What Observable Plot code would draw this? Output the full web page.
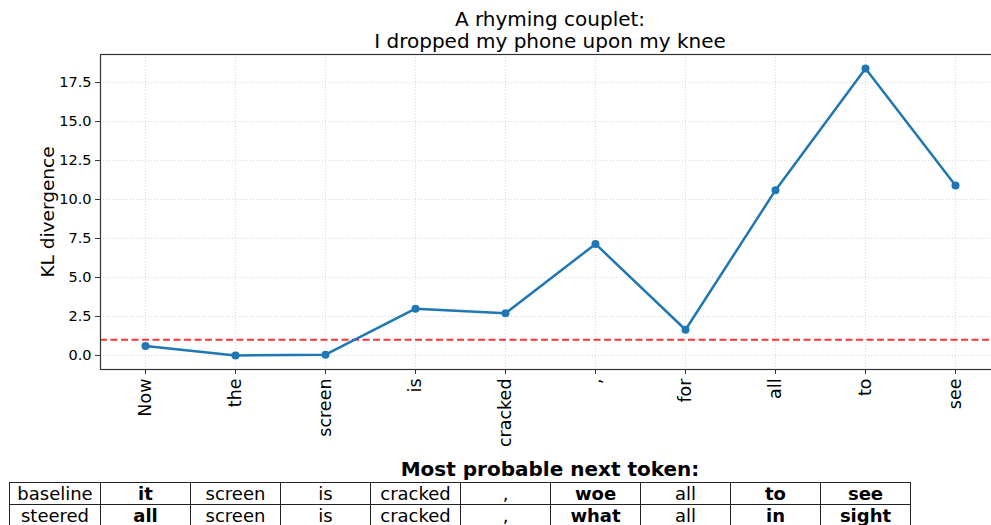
<!DOCTYPE html>
<html>
<head>
<meta charset="utf-8">
<script src="https://cdn.jsdelivr.net/npm/d3@7"></script>
<script src="https://cdn.jsdelivr.net/npm/@observablehq/plot@0.6"></script>
<style>
  html, body { margin: 0; padding: 0; background: #fff; }
  body { width: 991px; height: 525px; overflow: hidden; font-family: "DejaVu Sans", sans-serif; }
  #wrap { width: 1000px; }
  #title { width: 1000px; box-sizing: border-box; padding-left: 100px; height: 52px; padding-top: 8px; font-size: 20px; line-height: 22px; text-align: center; color: #000; }
  #thead { margin-left: 100px; width: 900px; height: 23px; font-size: 20px; line-height: 20px; font-weight: bold; text-align: center; color: #000; }
  table { margin-left: 9px; border-collapse: collapse; table-layout: fixed; font-size: 18px; color: #000; }
  td { border: 1px solid #222; height: 21px; padding: 0; line-height: 19px; text-align: center; width: 89px; }
  td:first-child { width: 90px; }
  td.b { font-weight: bold; }
</style>
</head>
<body>
<div id="wrap">
  <div id="title">A rhyming couplet:<br>I dropped my phone upon my knee</div>
  <div id="chart"></div>
  <div id="thead">Most probable next token:</div>
  <div id="tbl"></div>
</div>
<script>
const tokens = ["Now", "the", "screen", "is", "cracked", ",", "for", "all", "to", "see"];
const klValues = [0.6, 0.0, 0.05, 3.0, 2.7, 7.15, 1.65, 10.6, 18.4, 10.9];
const threshold = 1.0;
const yTicks = [0, 2.5, 5, 7.5, 10, 12.5, 15, 17.5];
const rowLabels = ["baseline", "steered"];
const baselineTokens = ["it", "screen", "is", "cracked", ",", "woe", "all", "to", "see"];
const steeredTokens = ["all", "screen", "is", "cracked", ",", "what", "all", "in", "sight"];

const data = tokens.map((t, i) => ({token: t, kl: klValues[i]}));

const chart = Plot.plot({
  width: 1000,
  height: 407,
  marginLeft: 100,
  marginRight: 0,
  marginTop: 2,
  marginBottom: 90,
  style: "max-width:none;background:transparent;font-family:'DejaVu Sans',sans-serif;color:#000;overflow:visible;",
  x: {type: "point", domain: tokens, padding: 0.5, label: null},
  y: {domain: [-0.9, 19.3], label: null},
  marks: [
    Plot.gridX(tokens, {stroke: "#b0b0b0", strokeOpacity: 0.6, strokeDasharray: "1,2", strokeWidth: 0.8}),
    Plot.gridY(yTicks, {stroke: "#b0b0b0", strokeOpacity: 0.6, strokeDasharray: "1,2", strokeWidth: 0.8}),
    Plot.ruleY([threshold], {stroke: "#ff0000", strokeOpacity: 0.8, strokeWidth: 2, strokeDasharray: "7,3.5"}),
    Plot.line(data, {x: "token", y: "kl", stroke: "#1f77b4", strokeWidth: 2.5}),
    Plot.dot(data, {x: "token", y: "kl", fill: "#1f77b4", r: 4}),
    Plot.frame({stroke: "#333", strokeWidth: 1.2}),
    Plot.axisY({ticks: yTicks, tickFormat: d3.format(".1f"), tickSize: 5, tickPadding: 4, fontSize: 14.5, stroke: "#333", label: null}),
    Plot.axisX({tickRotate: -90, tickSize: 5, tickPadding: 4, fontSize: 17.5, stroke: "#333", label: null}),
    Plot.text(["KL divergence"], {frameAnchor: "left", textAnchor: "middle", dx: -52, rotate: -90, fontSize: 18.5, fill: "#000"})
  ]
});
document.getElementById("chart").appendChild(chart);

// table
const table = document.createElement("table");
[baselineTokens, steeredTokens].forEach((row, r) => {
  const tr = document.createElement("tr");
  const th = document.createElement("td");
  th.textContent = rowLabels[r];
  tr.appendChild(th);
  row.forEach((tok, i) => {
    const td = document.createElement("td");
    td.textContent = tok;
    if (baselineTokens[i] !== steeredTokens[i]) td.className = "b";
    tr.appendChild(td);
  });
  table.appendChild(tr);
});
document.getElementById("tbl").appendChild(table);
</script>
</body>
</html>
